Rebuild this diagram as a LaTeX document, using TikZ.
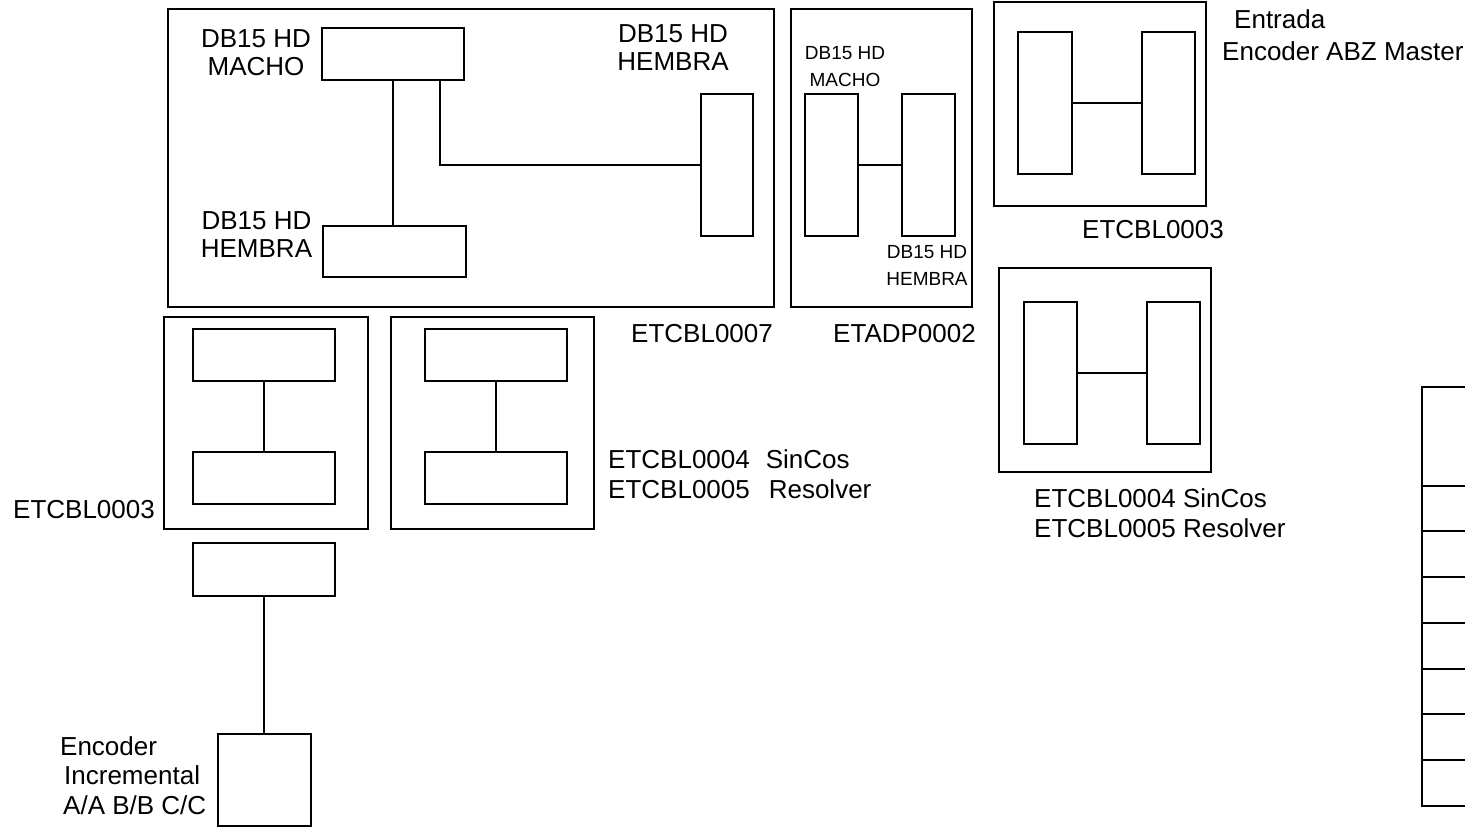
\documentclass[tikz,border=0pt]{standalone}
\usepackage{fontspec}
\setmainfont{Liberation Sans}
\usetikzlibrary{calc}
\tikzset{
  box/.style 2 args={draw, rectangle, inner sep=0pt, line width=1.4pt,
    minimum width=#1, minimum height=#2},
  wire/.style={line width=1.4pt},
  lbl/.style={inner sep=0pt, font=\fontsize{26}{28}\selectfont},
  small/.style={inner sep=0pt, font=\fontsize{19}{27}\selectfont},
}
\begin{document}
\begin{tikzpicture}[x=1pt,y=-1pt]
  \useasboundingbox (0,0) rectangle (1465,827);
  % ETCBL0007
  \node[box={606}{298}] (c7) at (471,158) {};
  \node[box={142}{52}] (c7m) at (393,54) {};
  \node[box={143}{51}] (c7f) at (394.5,251.5) {};
  \node[box={52}{142}] (c7r) at (727,165) {};
  \draw[wire] (c7m.south) -- (c7m.south |- c7f.north);
  \draw[wire] ($(c7m.south)+(47,0)$) |- (c7r.west);
  \node[lbl, align=center, anchor=north] (c7ml) at (256,29.5) {DB15 HD\\MACHO};
  \node[lbl, align=center, anchor=north] (c7rl) at (673,24.5) {DB15 HD\\HEMBRA};
  \node[lbl, align=center, anchor=north] (c7fl) at (256.5,211.5) {DB15 HD\\HEMBRA};
  \node[lbl, anchor=base west] (c7t) at (631,342) {ETCBL0007};
  % ETADP0002
  \node[box={181}{298}] (ad) at (881.5,158) {};
  \node[box={53}{142}] (adm) at (831.5,165) {};
  \node[box={53}{142}] (adf) at (928.5,165) {};
  \draw[wire] (adm.east) -- (adf.west);
  \node[small, align=center, anchor=north] (adml) at (845,46.5) {DB15 HD\\MACHO};
  \node[small, align=center, anchor=north] (adfl) at (927,245.5) {DB15 HD\\HEMBRA};
  \node[lbl, anchor=base west] (adt) at (833,342) {ETADP0002};
  % ETCBL0003 (arriba derecha)
  \node[box={212}{204}] (c3a) at (1100,104) {};
  \node[box={54}{142}] (c3al) at (1045,103) {};
  \node[box={53}{142}] (c3ar) at (1168.5,103) {};
  \draw[wire] (c3al.east) -- (c3ar.west);
  \node[lbl, anchor=base west] (c3at) at (1082,238) {ETCBL0003};
  \node[lbl, align=left, anchor=north west] (ent) at (1222,9.5)
    {\hspace*{12pt}Entrada\\[4pt]Encoder ABZ Master};
  % ETCBL0004 / ETCBL0005 (derecha)
  \node[box={212}{204}] (c4a) at (1105,370) {};
  \node[box={53}{142}] (c4al) at (1050.5,373) {};
  \node[box={53}{142}] (c4ar) at (1173.5,373) {};
  \draw[wire] (c4al.east) -- (c4ar.west);
  \node[lbl, align=left, anchor=north west] (c4at) at (1034,488.5)
    {ETCBL0004 SinCos\\[2pt]ETCBL0005 Resolver};
  % ETCBL0003 (izquierda)
  \node[box={204}{212}] (c3b) at (266,423) {};
  \node[box={142}{52}] (c3bt) at (264,355) {};
  \node[box={142}{52}] (c3bb) at (264,478) {};
  \draw[wire] (c3bt.south) -- (c3bb.north);
  \node[lbl, anchor=base east] (c3bl) at (155,518) {ETCBL0003};
  % ETCBL0004 / ETCBL0005 (izquierda)
  \node[box={203}{212}] (c4b) at (492.5,423) {};
  \node[box={142}{52}] (c4bt) at (496,355) {};
  \node[box={142}{52}] (c4bb) at (496,478) {};
  \draw[wire] (c4bt.south) -- (c4bb.north);
  \node[lbl, align=left, anchor=north west] (c4bl) at (608,449.5)
    {ETCBL0004\hspace{16pt}SinCos\\[2pt]ETCBL0005\hspace{19pt}Resolver};
  % Encoder incremental
  \node[box={142}{53}] (enc) at (264,569.5) {};
  \node[box={93}{92}] (encm) at (264.5,780) {};
  \draw[wire] (enc.south) -- (enc.south |- encm.north);
  \node[lbl, align=left, anchor=north west] (encl) at (60,736)
    {Encoder\\[1.5pt]\hspace*{4pt}Incremental\\[1.5pt]\hspace*{3pt}A/A B/B C/C};
  % Bloque de bornes
  \node[box={78}{419}] (tb) at (1461,596.5) {};
  \foreach \yy in {486,531,577,623,669,714,760}
    \draw[wire] (tb.west |- 0,\yy) -- (tb.east |- 0,\yy);
\end{tikzpicture}
\end{document}
